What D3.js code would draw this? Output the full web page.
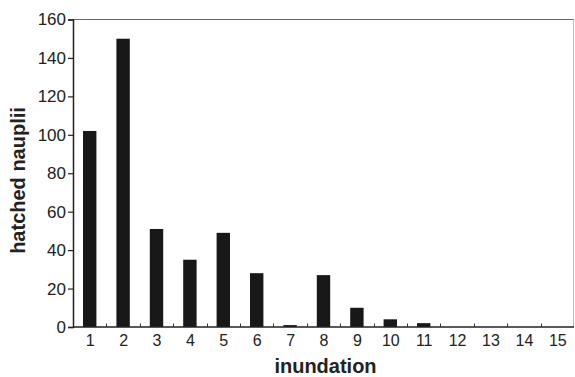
<!DOCTYPE html>
<html><head><meta charset="utf-8">
<script src="https://cdn.jsdelivr.net/npm/d3@7"></script>
<style>body{margin:0;background:#fff}svg{display:block}text{font-family:"Liberation Sans",Arial,sans-serif}</style>
</head><body>
<svg id="c" width="575" height="377"></svg>
<script>
const categories = [1,2,3,4,5,6,7,8,9,10,11,12,13,14,15];
const values = [102,150,51,35,49,28,1,27,10,4,2,0,0,0,0];
const yTicks = [0,20,40,60,80,100,120,140,160];
const xTitle = "inundation";
const yTitle = "hatched nauplii";

const svg = d3.select("#c");
const m = {l:73, r:1, t:19.5, b:50};
const W = 575, H = 377;
const xb = d3.scaleLinear().domain([0.5, 15.5]).range([m.l, W-m.r]);
const y = d3.scaleLinear().domain([0,160]).range([H-m.b, m.t]);

// frame top and right
svg.append("line").attr("x1",m.l).attr("x2",W-m.r).attr("y1",m.t).attr("y2",m.t).attr("stroke","#6a6a6a").attr("stroke-width",1.2);
svg.append("line").attr("x1",W-m.r-0.5).attr("x2",W-m.r-0.5).attr("y1",m.t).attr("y2",H-m.b).attr("stroke","#bbb").attr("stroke-width",1);

// bars
svg.append("g").selectAll("rect").data(values).join("rect")
  .attr("x",(d,i)=>xb(categories[i]) - 6.7)
  .attr("width",13.4)
  .attr("y",d=>y(d))
  .attr("height",d=>y(0)-y(d))
  .attr("fill","#181818");

// y axis
const ya = svg.append("g").attr("transform",`translate(${m.l},0)`)
  .call(d3.axisLeft(y).tickValues(yTicks).tickSize(5).tickPadding(2));
ya.select(".domain").attr("stroke","#222").attr("stroke-width",1.5);
ya.selectAll(".tick line").attr("stroke","#222").attr("stroke-width",1.2);
ya.selectAll("text").attr("font-size",17).attr("fill","#222").attr("font-family","Liberation Sans, Arial, sans-serif");

// x axis: labels at centers, small inner ticks at boundaries
const xa = svg.append("g").attr("transform",`translate(0,${H-m.b})`)
  .call(d3.axisBottom(xb).tickValues(categories).tickSize(0).tickPadding(7.5).tickFormat(d3.format("d")));
xa.select(".domain").remove();
xa.selectAll("text").attr("font-size",16).attr("fill","#222").attr("font-family","Liberation Sans, Arial, sans-serif");
svg.append("line").attr("x1",m.l).attr("x2",W-m.r).attr("y1",H-m.b).attr("y2",H-m.b).attr("stroke","#222").attr("stroke-width",1.5);
const bounds = categories.slice(0,-1).map(c=>c+0.5);
svg.append("g").selectAll("line").data(bounds).join("line")
  .attr("x1",d=>Math.round(xb(d))+0.5).attr("x2",d=>Math.round(xb(d))+0.5)
  .attr("y1",H-m.b).attr("y2",H-m.b-3.5).attr("stroke","#333").attr("stroke-width",1);

// titles
svg.append("text").attr("x",(m.l+W-m.r)/2+2).attr("y",373).attr("text-anchor","middle")
  .attr("font-size",20).attr("font-weight","bold").attr("fill","#222").text(xTitle);
svg.append("text").attr("transform",`translate(25,180.5) rotate(-90)`).attr("text-anchor","middle")
  .attr("font-size",20).attr("font-weight","bold").attr("fill","#222").text(yTitle);
</script>
</body></html>
